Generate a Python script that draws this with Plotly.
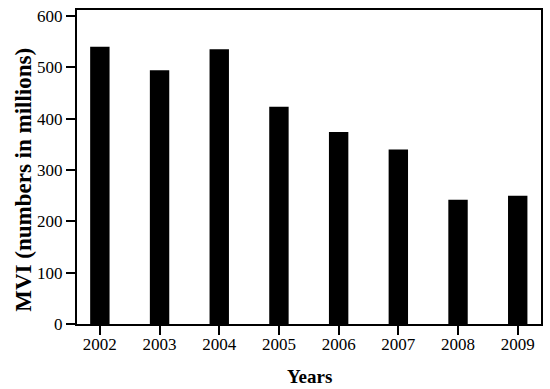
import plotly.graph_objects as go

years = ["2002", "2003", "2004", "2005", "2006", "2007", "2008", "2009"]
mvi = [540, 494, 535, 423, 374, 340, 242, 250]
y_ticks = [0, 100, 200, 300, 400, 500, 600]

font_family = "Liberation Serif, Times New Roman, serif"

fig = go.Figure(go.Bar(x=years, y=mvi, width=0.325,
                       marker=dict(color="black", line=dict(width=0))))

fig.update_layout(
    width=550, height=389,
    margin=dict(l=77, r=7, t=7, b=65),
    plot_bgcolor="white", paper_bgcolor="white",
    showlegend=False,
    font=dict(family=font_family, color="black", size=17),
    xaxis=dict(type="category", range=[-0.383, 7.39],
               showline=True, linecolor="black", linewidth=2, mirror=True,
               ticks="outside", ticklen=9, tickwidth=2, tickcolor="black",
               ticklabelstandoff=-5,
               showgrid=False, tickfont=dict(size=17, family=font_family)),
    yaxis=dict(range=[0, 611.5], tickvals=y_ticks,
               showline=True, linecolor="black", linewidth=2, mirror=True,
               ticks="outside", ticklen=9, tickwidth=2, tickcolor="black",
               showgrid=False, zeroline=False,
               tickfont=dict(size=17, family=font_family)),
    annotations=[
        dict(text="<b>MVI (numbers in millions)</b>", textangle=-90,
             xref="paper", yref="paper", x=-0.116, y=0.46,
             xanchor="center", yanchor="middle", showarrow=False,
             font=dict(size=23, family=font_family, color="black")),
        dict(text="<b>Years</b>",
             xref="paper", yref="paper", x=0.5, y=-0.167,
             xanchor="center", yanchor="middle", showarrow=False,
             font=dict(size=19, family=font_family, color="black")),
    ],
)

fig.write_html("out.html", config={"displayModeBar": False},
               post_script="document.body.style.margin='0';document.body.style.overflow='hidden';")
